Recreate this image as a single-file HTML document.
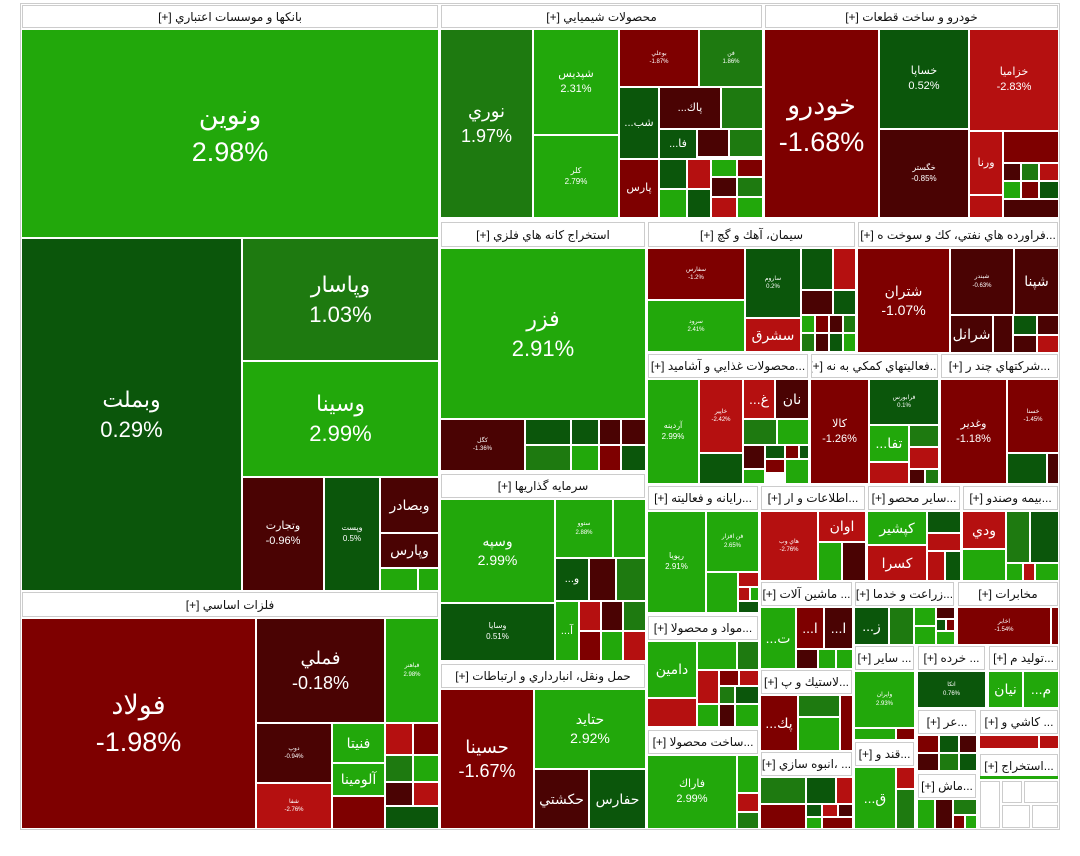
<!DOCTYPE html>
<html><head><meta charset="utf-8"><style>
body{margin:0;width:1080px;height:856px;background:#fff;position:relative;overflow:hidden;font-family:"Liberation Sans","DejaVu Sans",sans-serif}
.c{position:absolute;box-sizing:border-box;color:#fff;display:flex;flex-direction:column;align-items:center;justify-content:center;text-align:center;overflow:hidden;line-height:1.35;white-space:nowrap}
.h{position:absolute;box-sizing:border-box;background:#fff;border:1px solid #ccc;color:#111;font-size:12px;display:flex;align-items:center;justify-content:center;direction:rtl;white-space:nowrap;overflow:hidden}
.g1{background:#22a80b}.g2{background:#1e7a10}.g3{background:#0b560b}
.r1{background:#b51010}.r2{background:#7e0000}.r3{background:#4a0303}
.w{background:#fff;border:1px solid #ccc}
.f28{font-size:27px}.f22{font-size:22px}.f18{font-size:18px}.f14{font-size:14px}.f11{font-size:11px}.f8{font-size:8px}.f6{font-size:6px}
.frame{position:absolute;left:20px;top:3px;width:1040px;height:827px;border:1px solid #ccc;box-sizing:border-box}
</style></head><body>
<div class="frame"></div>
<!-- Banks -->
<div class="h" style="left:22px;top:5px;width:416px;height:23px">بانكها و موسسات اعتباري [+]</div>
<div class="c g1 f28" style="left:22px;top:30px;width:416px;height:207px"><div>ونوين</div><div>2.98%</div></div>
<div class="c g3 f22" style="left:22px;top:239px;width:219px;height:351px"><div>وبملت</div><div>0.29%</div></div>
<div class="c g2 f22" style="left:243px;top:239px;width:195px;height:121px"><div>وپاسار</div><div>1.03%</div></div>
<div class="c g1 f22" style="left:243px;top:362px;width:195px;height:114px"><div>وسينا</div><div>2.99%</div></div>
<div class="c r3 f11" style="left:243px;top:478px;width:80px;height:112px"><div>وتجارت</div><div>-0.96%</div></div>
<div class="c g3 f8" style="left:325px;top:478px;width:54px;height:112px"><div>وپست</div><div>0.5%</div></div>
<div class="c r3 f14" style="left:381px;top:478px;width:57px;height:54px">وبصادر</div>
<div class="c r3 f14" style="left:381px;top:534px;width:57px;height:33px">وپارس</div>
<div class="c g1" style="left:381px;top:569px;width:36px;height:21px"></div>
<div class="c g1" style="left:419px;top:569px;width:19px;height:21px"></div>
<!-- Metals -->
<div class="h" style="left:22px;top:592px;width:416px;height:25px">فلزات اساسي [+]</div>
<div class="c r2 f28" style="left:22px;top:619px;width:233px;height:209px"><div>فولاد</div><div>-1.98%</div></div>
<div class="c r3 f18" style="left:257px;top:619px;width:127px;height:103px"><div>فملي</div><div>-0.18%</div></div>
<div class="c g1 f6" style="left:386px;top:619px;width:52px;height:103px"><div>فباهنر</div><div>2.98%</div></div>
<div class="c r3 f6" style="left:257px;top:724px;width:74px;height:58px"><div>دوپ</div><div>-0.94%</div></div>
<div class="c g1 f14" style="left:333px;top:724px;width:51px;height:38px">فنيتا</div>
<div class="c g1 f14" style="left:333px;top:764px;width:51px;height:31px">آلومينا</div>
<div class="c r1 f6" style="left:257px;top:784px;width:74px;height:44px"><div>شفا</div><div>-2.76%</div></div>
<div class="c r2" style="left:333px;top:797px;width:51px;height:31px"></div>
<div class="c r1" style="left:386px;top:724px;width:26px;height:30px"></div>
<div class="c r2" style="left:414px;top:724px;width:24px;height:30px"></div>
<div class="c g2" style="left:386px;top:756px;width:26px;height:25px"></div>
<div class="c g1" style="left:414px;top:756px;width:24px;height:25px"></div>
<div class="c r3" style="left:386px;top:783px;width:26px;height:22px"></div>
<div class="c r1" style="left:414px;top:783px;width:24px;height:22px"></div>
<div class="c g3" style="left:386px;top:807px;width:52px;height:21px"></div>
<!-- Chemicals -->
<div class="h" style="left:441px;top:5px;width:321px;height:23px">محصولات شيميايي [+]</div>
<div class="c g2 f18" style="left:441px;top:30px;width:91px;height:187px"><div>نوري</div><div>1.97%</div></div>
<div class="c g1 f11" style="left:534px;top:30px;width:84px;height:104px"><div>شپديس</div><div>2.31%</div></div>
<div class="c g1 f8" style="left:534px;top:136px;width:84px;height:81px"><div>كلر</div><div>2.79%</div></div>
<div class="c r2 f6" style="left:620px;top:30px;width:78px;height:56px"><div>بوعلي</div><div>-1.87%</div></div>
<div class="c g2 f6" style="left:700px;top:30px;width:62px;height:56px"><div>فن</div><div>1.86%</div></div>
<div class="c g3 f11" style="left:620px;top:88px;width:38px;height:70px">...شب</div>
<div class="c r3 f11" style="left:660px;top:88px;width:60px;height:40px">...پاك</div>
<div class="c g2" style="left:722px;top:88px;width:40px;height:40px"></div>
<div class="c r2 f11" style="left:620px;top:160px;width:38px;height:57px">پارس</div>
<div class="c g3 f11" style="left:660px;top:130px;width:36px;height:28px">...فا</div>
<div class="c r3" style="left:698px;top:130px;width:30px;height:26px"></div>
<div class="c g2" style="left:730px;top:130px;width:32px;height:26px"></div>
<div class="c g3" style="left:660px;top:160px;width:26px;height:28px"></div>
<div class="c r1" style="left:688px;top:160px;width:22px;height:28px"></div>
<div class="c g1" style="left:712px;top:160px;width:24px;height:16px"></div>
<div class="c r2" style="left:738px;top:160px;width:24px;height:16px"></div>
<div class="c g1" style="left:660px;top:190px;width:26px;height:27px"></div>
<div class="c g3" style="left:688px;top:190px;width:22px;height:27px"></div>
<div class="c r3" style="left:712px;top:178px;width:24px;height:18px"></div>
<div class="c g2" style="left:738px;top:178px;width:24px;height:18px"></div>
<div class="c r1" style="left:712px;top:198px;width:24px;height:19px"></div>
<div class="c g1" style="left:738px;top:198px;width:24px;height:19px"></div>
<!-- Auto -->
<div class="h" style="left:765px;top:5px;width:293px;height:23px">خودرو و ساخت قطعات [+]</div>
<div class="c r2 f28" style="left:765px;top:30px;width:113px;height:187px"><div>خودرو</div><div>-1.68%</div></div>
<div class="c g3 f11" style="left:880px;top:30px;width:88px;height:98px"><div>خساپا</div><div>0.52%</div></div>
<div class="c r1 f11" style="left:970px;top:30px;width:88px;height:100px"><div>خزاميا</div><div>-2.83%</div></div>
<div class="c r3 f8" style="left:880px;top:130px;width:88px;height:87px"><div>خگستر</div><div>-0.85%</div></div>
<div class="c r1 f11" style="left:970px;top:132px;width:32px;height:62px">ورنا</div>
<div class="c r2" style="left:1004px;top:132px;width:54px;height:30px"></div>
<div class="c r3" style="left:1004px;top:164px;width:16px;height:16px"></div>
<div class="c g2" style="left:1022px;top:164px;width:16px;height:16px"></div>
<div class="c r1" style="left:1040px;top:164px;width:18px;height:16px"></div>
<div class="c g1" style="left:1004px;top:182px;width:16px;height:16px"></div>
<div class="c r2" style="left:1022px;top:182px;width:16px;height:16px"></div>
<div class="c g3" style="left:1040px;top:182px;width:18px;height:16px"></div>
<div class="c r1" style="left:970px;top:196px;width:32px;height:21px"></div>
<div class="c r3" style="left:1004px;top:200px;width:54px;height:17px"></div>
<!-- Mining -->
<div class="h" style="left:441px;top:222px;width:204px;height:25px">استخراج كانه هاي فلزي [+]</div>
<div class="c g1 f22" style="left:441px;top:249px;width:204px;height:169px"><div>فزر</div><div>2.91%</div></div>
<div class="c r3 f6" style="left:441px;top:420px;width:83px;height:50px"><div>كگل</div><div>-1.36%</div></div>
<div class="c g3" style="left:526px;top:420px;width:44px;height:24px"></div>
<div class="c g3" style="left:572px;top:420px;width:26px;height:24px"></div>
<div class="c r3" style="left:600px;top:420px;width:20px;height:24px"></div>
<div class="c r3" style="left:622px;top:420px;width:23px;height:24px"></div>
<div class="c g2" style="left:526px;top:446px;width:44px;height:24px"></div>
<div class="c g1" style="left:572px;top:446px;width:26px;height:24px"></div>
<div class="c r2" style="left:600px;top:446px;width:20px;height:24px"></div>
<div class="c g3" style="left:622px;top:446px;width:23px;height:24px"></div>
<!-- Investment -->
<div class="h" style="left:441px;top:474px;width:204px;height:24px">سرمايه گذاريها [+]</div>
<div class="c g1 f14" style="left:441px;top:500px;width:113px;height:102px"><div>وسپه</div><div>2.99%</div></div>
<div class="c g3 f8" style="left:441px;top:604px;width:113px;height:56px"><div>وسايا</div><div>0.51%</div></div>
<div class="c g1 f6" style="left:556px;top:500px;width:56px;height:57px"><div>ستوو</div><div>2.88%</div></div>
<div class="c g1" style="left:614px;top:500px;width:31px;height:57px"></div>
<div class="c g3 f11" style="left:556px;top:559px;width:32px;height:41px">...و</div>
<div class="c r3" style="left:590px;top:559px;width:25px;height:41px"></div>
<div class="c g2" style="left:617px;top:559px;width:28px;height:41px"></div>
<div class="c g1 f11" style="left:556px;top:602px;width:22px;height:58px">...آ</div>
<div class="c r1" style="left:580px;top:602px;width:20px;height:28px"></div>
<div class="c r3" style="left:602px;top:602px;width:20px;height:28px"></div>
<div class="c g2" style="left:624px;top:602px;width:21px;height:28px"></div>
<div class="c r2" style="left:580px;top:632px;width:20px;height:28px"></div>
<div class="c g1" style="left:602px;top:632px;width:20px;height:28px"></div>
<div class="c r1" style="left:624px;top:632px;width:21px;height:28px"></div>
<!-- Transport -->
<div class="h" style="left:441px;top:664px;width:204px;height:24px">حمل ونقل، انبارداري و ارتباطات [+]</div>
<div class="c r2 f18" style="left:441px;top:690px;width:92px;height:138px"><div>حسينا</div><div>-1.67%</div></div>
<div class="c g1 f14" style="left:535px;top:690px;width:110px;height:78px"><div>حتايد</div><div>2.92%</div></div>
<div class="c r3 f14" style="left:535px;top:770px;width:53px;height:58px">حكشتي</div>
<div class="c g3 f14" style="left:590px;top:770px;width:55px;height:58px">حفارس</div>
<!-- Cement -->
<div class="h" style="left:648px;top:222px;width:207px;height:25px">سيمان، آهك و گچ [+]</div>
<div class="c r2 f6" style="left:648px;top:249px;width:96px;height:50px"><div>سفارس</div><div>-1.2%</div></div>
<div class="c g1 f6" style="left:648px;top:301px;width:96px;height:50px"><div>سرود</div><div>2.41%</div></div>
<div class="c g3 f6" style="left:746px;top:249px;width:54px;height:68px"><div>ساروم</div><div>0.2%</div></div>
<div class="c r1 f14" style="left:746px;top:319px;width:54px;height:32px">سشرق</div>
<div class="c g3" style="left:802px;top:249px;width:30px;height:40px"></div>
<div class="c r1" style="left:834px;top:249px;width:21px;height:40px"></div>
<div class="c r3" style="left:802px;top:291px;width:30px;height:23px"></div>
<div class="c g3" style="left:834px;top:291px;width:21px;height:23px"></div>
<div class="c g1" style="left:802px;top:316px;width:12px;height:16px"></div>
<div class="c r2" style="left:816px;top:316px;width:12px;height:16px"></div>
<div class="c r3" style="left:830px;top:316px;width:12px;height:16px"></div>
<div class="c g2" style="left:844px;top:316px;width:11px;height:16px"></div>
<div class="c g2" style="left:802px;top:334px;width:12px;height:17px"></div>
<div class="c r3" style="left:816px;top:334px;width:12px;height:17px"></div>
<div class="c g3" style="left:830px;top:334px;width:12px;height:17px"></div>
<div class="c g1" style="left:844px;top:334px;width:11px;height:17px"></div>
<!-- Oil -->
<div class="h" style="left:858px;top:222px;width:200px;height:25px">...فراورده هاي نفتي، كك و سوخت ه [+]</div>
<div class="c r2 f14" style="left:858px;top:249px;width:91px;height:103px"><div>شتران</div><div>-1.07%</div></div>
<div class="c r3 f6" style="left:951px;top:249px;width:62px;height:65px"><div>شبندر</div><div>-0.63%</div></div>
<div class="c r3 f14" style="left:1015px;top:249px;width:43px;height:65px">شپنا</div>
<div class="c r3 f14" style="left:951px;top:316px;width:41px;height:36px">شرانل</div>
<div class="c r3" style="left:994px;top:316px;width:18px;height:36px"></div>
<div class="c g3" style="left:1014px;top:316px;width:22px;height:18px"></div>
<div class="c r3" style="left:1038px;top:316px;width:20px;height:18px"></div>
<div class="c r3" style="left:1014px;top:336px;width:22px;height:16px"></div>
<div class="c r1" style="left:1038px;top:336px;width:20px;height:16px"></div>
<!-- Food -->
<div class="h" style="left:648px;top:354px;width:160px;height:24px">...محصولات غذايي و آشاميد [+]</div>
<div class="c g1 f8" style="left:648px;top:380px;width:50px;height:103px"><div>آردينه</div><div>2.99%</div></div>
<div class="c r1 f6" style="left:700px;top:380px;width:42px;height:72px"><div>خاپير</div><div>-2.42%</div></div>
<div class="c g3" style="left:700px;top:454px;width:42px;height:29px"></div>
<div class="c r1 f14" style="left:744px;top:380px;width:30px;height:38px">...غ</div>
<div class="c r3 f14" style="left:776px;top:380px;width:32px;height:38px">نان</div>
<div class="c g2" style="left:744px;top:420px;width:32px;height:24px"></div>
<div class="c g1" style="left:778px;top:420px;width:30px;height:24px"></div>
<div class="c r3" style="left:744px;top:446px;width:20px;height:22px"></div>
<div class="c g3" style="left:766px;top:446px;width:18px;height:12px"></div>
<div class="c r2" style="left:786px;top:446px;width:12px;height:12px"></div>
<div class="c g3" style="left:800px;top:446px;width:8px;height:12px"></div>
<div class="c r2" style="left:766px;top:460px;width:18px;height:12px"></div>
<div class="c g1" style="left:786px;top:460px;width:22px;height:23px"></div>
<div class="c g1" style="left:744px;top:470px;width:20px;height:13px"></div>
<!-- Support -->
<div class="h" style="left:811px;top:354px;width:127px;height:24px">...فعاليتهاي كمكي به نه [+]</div>
<div class="c r2 f11" style="left:811px;top:380px;width:57px;height:103px"><div>كالا</div><div>-1.26%</div></div>
<div class="c g3 f6" style="left:870px;top:380px;width:68px;height:44px"><div>فرابورس</div><div>0.1%</div></div>
<div class="c g1 f14" style="left:870px;top:426px;width:38px;height:35px">...تفا</div>
<div class="c g2" style="left:910px;top:426px;width:28px;height:20px"></div>
<div class="c r1" style="left:910px;top:448px;width:28px;height:20px"></div>
<div class="c r1" style="left:870px;top:463px;width:38px;height:20px"></div>
<div class="c r3" style="left:910px;top:470px;width:14px;height:13px"></div>
<div class="c g2" style="left:926px;top:470px;width:12px;height:13px"></div>
<!-- Multi -->
<div class="h" style="left:941px;top:354px;width:117px;height:24px">...شركتهاي چند ر [+]</div>
<div class="c r2 f11" style="left:941px;top:380px;width:65px;height:103px"><div>وغدير</div><div>-1.18%</div></div>
<div class="c r2 f6" style="left:1008px;top:380px;width:50px;height:72px"><div>خسنا</div><div>-1.45%</div></div>
<div class="c g3" style="left:1008px;top:454px;width:38px;height:29px"></div>
<div class="c r3" style="left:1048px;top:454px;width:10px;height:29px"></div>
<!-- Raya -->
<div class="h" style="left:648px;top:486px;width:110px;height:24px">...رايانه و فعاليته [+]</div>
<div class="c g1 f8" style="left:648px;top:512px;width:57px;height:100px"><div>رپويا</div><div>2.91%</div></div>
<div class="c g1 f6" style="left:707px;top:512px;width:51px;height:59px"><div>فن افزار</div><div>2.65%</div></div>
<div class="c g1" style="left:707px;top:573px;width:30px;height:39px"></div>
<div class="c r1" style="left:739px;top:573px;width:19px;height:13px"></div>
<div class="c r1" style="left:739px;top:588px;width:10px;height:12px"></div>
<div class="c g1" style="left:751px;top:588px;width:7px;height:12px"></div>
<div class="c g3" style="left:739px;top:602px;width:19px;height:10px"></div>
<!-- IT -->
<div class="h" style="left:761px;top:486px;width:104px;height:24px">...اطلاعات و ار [+]</div>
<div class="c r1 f6" style="left:761px;top:512px;width:56px;height:68px"><div>هاي وب</div><div>-2.76%</div></div>
<div class="c r1 f14" style="left:819px;top:512px;width:46px;height:29px">اوان</div>
<div class="c g1" style="left:819px;top:543px;width:22px;height:37px"></div>
<div class="c r3" style="left:843px;top:543px;width:22px;height:37px"></div>
<!-- Misc -->
<div class="h" style="left:868px;top:486px;width:92px;height:24px">...ساير محصو [+]</div>
<div class="c g1 f14" style="left:868px;top:512px;width:58px;height:32px">كپشير</div>
<div class="c r1 f14" style="left:868px;top:546px;width:58px;height:34px">كسرا</div>
<div class="c g3" style="left:928px;top:512px;width:32px;height:20px"></div>
<div class="c r1" style="left:928px;top:534px;width:32px;height:16px"></div>
<div class="c r1" style="left:928px;top:552px;width:16px;height:28px"></div>
<div class="c g3" style="left:946px;top:552px;width:14px;height:28px"></div>
<!-- Insurance -->
<div class="h" style="left:963px;top:486px;width:95px;height:24px">...بيمه وصندو [+]</div>
<div class="c r1 f14" style="left:963px;top:512px;width:42px;height:36px">ودي</div>
<div class="c g2" style="left:1007px;top:512px;width:22px;height:50px"></div>
<div class="c g3" style="left:1031px;top:512px;width:27px;height:50px"></div>
<div class="c g1" style="left:963px;top:550px;width:42px;height:30px"></div>
<div class="c g1" style="left:1007px;top:564px;width:15px;height:16px"></div>
<div class="c r1" style="left:1024px;top:564px;width:10px;height:16px"></div>
<div class="c g1" style="left:1036px;top:564px;width:22px;height:16px"></div>
<!-- Mawad -->
<div class="h" style="left:648px;top:616px;width:110px;height:24px">...مواد و محصولا [+]</div>
<div class="c g1 f14" style="left:648px;top:642px;width:48px;height:55px">دامين</div>
<div class="c g1" style="left:698px;top:642px;width:38px;height:27px"></div>
<div class="c g2" style="left:738px;top:642px;width:20px;height:27px"></div>
<div class="c r1" style="left:648px;top:699px;width:48px;height:27px"></div>
<div class="c r1" style="left:698px;top:671px;width:20px;height:32px"></div>
<div class="c r2" style="left:720px;top:671px;width:18px;height:14px"></div>
<div class="c r1" style="left:740px;top:671px;width:18px;height:14px"></div>
<div class="c g2" style="left:720px;top:687px;width:14px;height:16px"></div>
<div class="c g3" style="left:736px;top:687px;width:22px;height:16px"></div>
<div class="c g1" style="left:698px;top:705px;width:20px;height:21px"></div>
<div class="c r3" style="left:720px;top:705px;width:14px;height:21px"></div>
<div class="c g1" style="left:736px;top:705px;width:22px;height:21px"></div>
<!-- Sakht -->
<div class="h" style="left:648px;top:730px;width:110px;height:24px">...ساخت محصولا [+]</div>
<div class="c g1 f11" style="left:648px;top:756px;width:88px;height:72px"><div>فاراك</div><div>2.99%</div></div>
<div class="c g1" style="left:738px;top:756px;width:20px;height:36px"></div>
<div class="c r1" style="left:738px;top:794px;width:20px;height:17px"></div>
<div class="c g2" style="left:738px;top:813px;width:20px;height:15px"></div>
<!-- Machinery -->
<div class="h" style="left:761px;top:582px;width:91px;height:24px">... ماشين آلات [+]</div>
<div class="c g1 f14" style="left:761px;top:608px;width:34px;height:60px">...ت</div>
<div class="c r2 f14" style="left:797px;top:608px;width:26px;height:40px">...ا</div>
<div class="c r3 f14" style="left:825px;top:608px;width:27px;height:40px">...ا</div>
<div class="c r3" style="left:797px;top:650px;width:20px;height:18px"></div>
<div class="c g1" style="left:819px;top:650px;width:16px;height:18px"></div>
<div class="c g1" style="left:837px;top:650px;width:15px;height:18px"></div>
<!-- Agri -->
<div class="h" style="left:855px;top:582px;width:99px;height:24px">...زراعت و خدما [+]</div>
<div class="c g3 f14" style="left:855px;top:608px;width:33px;height:36px">...ز</div>
<div class="c g2" style="left:890px;top:608px;width:23px;height:36px"></div>
<div class="c g1" style="left:915px;top:608px;width:20px;height:17px"></div>
<div class="c g1" style="left:915px;top:627px;width:20px;height:17px"></div>
<div class="c r3" style="left:937px;top:608px;width:17px;height:10px"></div>
<div class="c g3" style="left:937px;top:620px;width:8px;height:10px"></div>
<div class="c r2" style="left:947px;top:620px;width:7px;height:10px"></div>
<div class="c g1" style="left:937px;top:632px;width:17px;height:12px"></div>
<!-- Telecom -->
<div class="h" style="left:958px;top:582px;width:100px;height:24px">مخابرات [+]</div>
<div class="c r2 f6" style="left:958px;top:608px;width:92px;height:36px"><div>اخابر</div><div>-1.54%</div></div>
<div class="c r2" style="left:1052px;top:608px;width:6px;height:36px"></div>
<!-- Plastic -->
<div class="h" style="left:761px;top:670px;width:91px;height:24px">...لاستيك و پ [+]</div>
<div class="c r2 f14" style="left:761px;top:696px;width:36px;height:54px">...پك</div>
<div class="c g2" style="left:799px;top:696px;width:40px;height:20px"></div>
<div class="c g1" style="left:799px;top:718px;width:40px;height:32px"></div>
<div class="c r2" style="left:841px;top:696px;width:11px;height:54px"></div>
<!-- Anboh -->
<div class="h" style="left:761px;top:752px;width:91px;height:24px">... ،انبوه سازي [+]</div>
<div class="c g2" style="left:761px;top:778px;width:44px;height:25px"></div>
<div class="c g3" style="left:807px;top:778px;width:28px;height:25px"></div>
<div class="c r1" style="left:837px;top:778px;width:15px;height:25px"></div>
<div class="c r2" style="left:761px;top:805px;width:44px;height:23px"></div>
<div class="c g3" style="left:807px;top:805px;width:14px;height:11px"></div>
<div class="c r1" style="left:823px;top:805px;width:14px;height:11px"></div>
<div class="c r3" style="left:839px;top:805px;width:13px;height:11px"></div>
<div class="c g1" style="left:807px;top:818px;width:14px;height:10px"></div>
<div class="c r2" style="left:823px;top:818px;width:29px;height:10px"></div>
<!-- Sayer2 -->
<div class="h" style="left:855px;top:646px;width:59px;height:24px">... ساير [+]</div>
<div class="c g1 f6" style="left:855px;top:672px;width:59px;height:55px"><div>واپران</div><div>2.93%</div></div>
<div class="c g1" style="left:855px;top:729px;width:40px;height:10px"></div>
<div class="c r2" style="left:897px;top:729px;width:17px;height:10px"></div>
<!-- Qand -->
<div class="h" style="left:855px;top:742px;width:59px;height:24px">...قند و [+]</div>
<div class="c g1 f14" style="left:855px;top:768px;width:40px;height:60px">...ق</div>
<div class="c r1" style="left:897px;top:768px;width:17px;height:20px"></div>
<div class="c g2" style="left:897px;top:790px;width:17px;height:38px"></div>
<!-- Khordeh -->
<div class="h" style="left:918px;top:646px;width:67px;height:24px">... خرده [+]</div>
<div class="c g3 f6" style="left:918px;top:672px;width:67px;height:35px"><div>اتكا</div><div>0.76%</div></div>
<!-- Tolid -->
<div class="h" style="left:989px;top:646px;width:69px;height:24px">...توليد م [+]</div>
<div class="c g1 f14" style="left:989px;top:672px;width:33px;height:35px">نيان</div>
<div class="c g1 f14" style="left:1024px;top:672px;width:34px;height:35px">...م</div>
<!-- Ar -->
<div class="h" style="left:918px;top:710px;width:58px;height:24px">...عر [+]</div>
<div class="c r2" style="left:918px;top:736px;width:20px;height:16px"></div>
<div class="c g3" style="left:940px;top:736px;width:18px;height:16px"></div>
<div class="c r3" style="left:960px;top:736px;width:16px;height:16px"></div>
<div class="c r3" style="left:918px;top:754px;width:20px;height:16px"></div>
<div class="c g2" style="left:940px;top:754px;width:18px;height:16px"></div>
<div class="c g3" style="left:960px;top:754px;width:16px;height:16px"></div>
<!-- Kashi -->
<div class="h" style="left:980px;top:710px;width:78px;height:24px">... كاشي و [+]</div>
<div class="c r1" style="left:980px;top:736px;width:58px;height:12px"></div>
<div class="c r1" style="left:1040px;top:736px;width:18px;height:12px"></div>
<!-- Mash -->
<div class="h" style="left:918px;top:774px;width:58px;height:24px">...ماش [+]</div>
<div class="c g1" style="left:918px;top:800px;width:16px;height:28px"></div>
<div class="c r3" style="left:936px;top:800px;width:16px;height:28px"></div>
<div class="c g2" style="left:954px;top:800px;width:22px;height:14px"></div>
<div class="c r2" style="left:954px;top:816px;width:10px;height:12px"></div>
<div class="c g1" style="left:966px;top:816px;width:10px;height:12px"></div>
<!-- Estekhraj -->
<div class="h" style="left:980px;top:754px;width:78px;height:24px">...استخراج [+]</div>
<div class="c g1" style="left:980px;top:776px;width:78px;height:3px"></div>
<div class="c w" style="left:980px;top:781px;width:20px;height:47px"></div>
<div class="c w" style="left:1002px;top:781px;width:20px;height:22px"></div>
<div class="c w" style="left:1024px;top:781px;width:34px;height:22px"></div>
<div class="c w" style="left:1002px;top:805px;width:28px;height:23px"></div>
<div class="c w" style="left:1032px;top:805px;width:26px;height:23px"></div>
</body></html>
